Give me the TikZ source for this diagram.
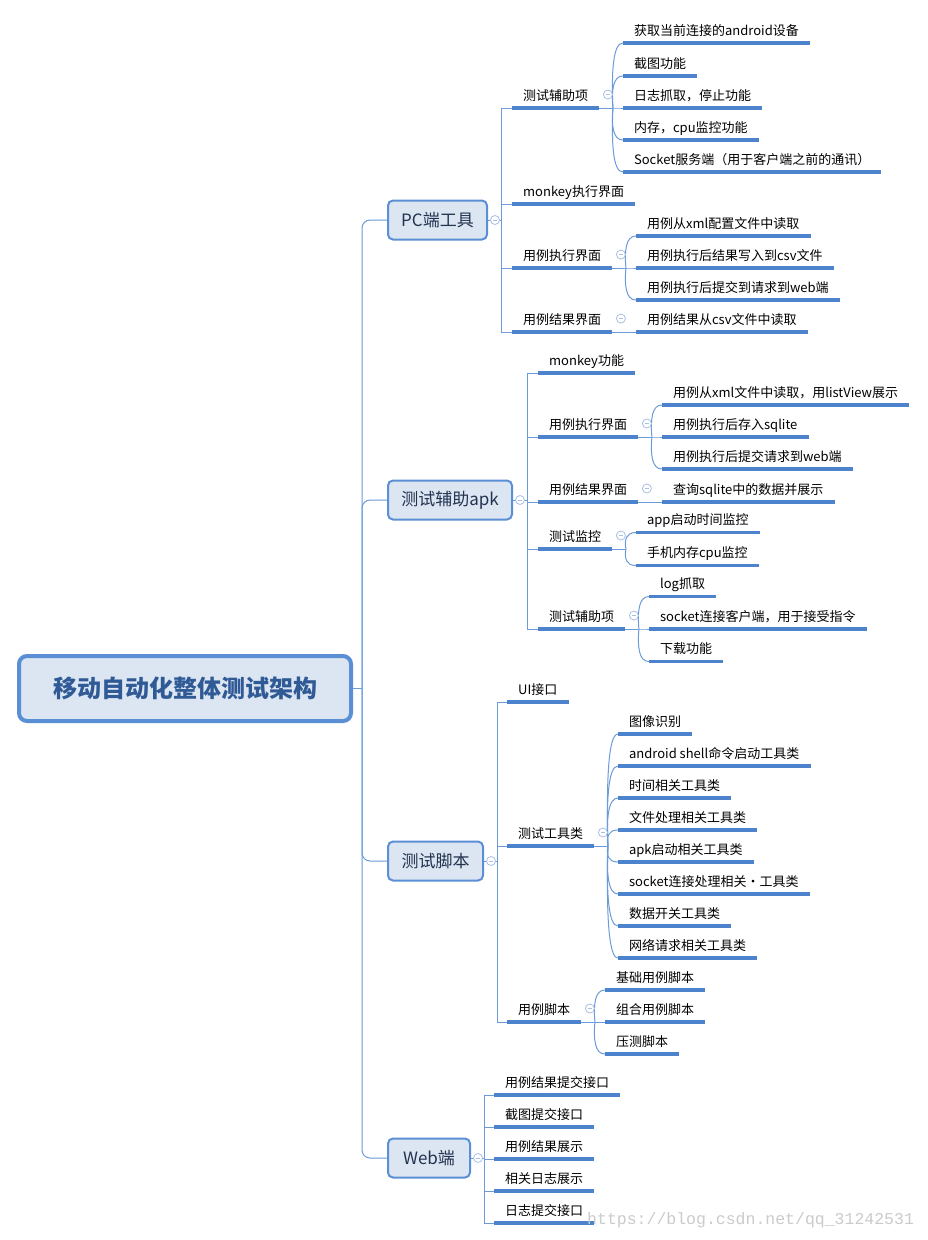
\documentclass[tikz,border=0pt]{standalone}
\usepackage{fontspec}
\setmainfont{Noto Sans CJK SC}
\newfontfamily\wmfont{Liberation Mono}
\usetikzlibrary{calc}

\definecolor{boxfill}{HTML}{DCE6F2}
\definecolor{boxline}{HTML}{5B8FD5}
\definecolor{rootink}{HTML}{2F5A96}
\definecolor{topicink}{HTML}{22324F}
\definecolor{uline}{HTML}{4C83CC}
\definecolor{wire}{HTML}{6B9BDA}
\definecolor{foldring}{HTML}{A9BFE6}
\definecolor{markgray}{HTML}{CBCBCB}

\tikzset{
  rootbox/.style={draw=boxline, line width=4pt, fill=boxfill, rounded corners=8pt,
    minimum width=332pt, minimum height=65pt, inner sep=0pt,
    font=\bfseries\fontsize{24}{28}\selectfont, text=rootink},
  topic/.style={draw=boxline, line width=2pt, fill=boxfill, rounded corners=5pt,
    minimum height=39pt, inner sep=0pt, font=\fontsize{17}{20}\selectfont, text=topicink},
  item/.style={anchor=south west, inner xsep=11pt, inner ysep=4.5pt,
    text height=10pt, text depth=3pt, font=\fontsize{13}{15}\selectfont, text=black},
  wirel/.style={draw=wire, line width=1pt},
  bar/.style={draw=uline, line width=3.2pt},
  fold/.style={circle, draw=foldring, fill=white, line width=0.8pt, minimum size=9pt,
    inner sep=0pt, path picture={\draw[foldring, line width=0.8pt]
      ([xshift=-2.2pt]path picture bounding box.center) --
      ([xshift=2.2pt]path picture bounding box.center);}},
  brace/.style={to path={let \p1=(\tikztostart), \p2=(\tikztotarget) in
    .. controls ({(\x1)-1.5pt},{(\y1)+0.55*((\y2)-(\y1))}) and (\x1,\y2) .. (\tikztotarget)}},
}

\begin{document}
\begin{tikzpicture}[x=1pt,y=-1pt]
\fill[white] (0,0) rectangle (927,1240);
\useasboundingbox (0,0) rectangle (927,1240);

% ---- central topic and main topics
\node[rootbox] (root) at (185,688.5) {移动自动化整体测试架构};
\coordinate (sp) at (362,688.5);

\node[topic, minimum width=99pt] (pc) at (437.5,220) {PC端工具};
\node[topic, minimum width=124pt] (apk) at (450,500) {测试辅助apk};
\node[topic, minimum width=95pt] (sc) at (435.5,861) {测试脚本};
\node[topic, minimum width=82pt] (web) at (429,1158) {Web端};

\coordinate (pcJ) at (501,220);
\coordinate (apkJ) at (527,500);
\coordinate (scJ) at (497,861);
\coordinate (webJ) at (484,1158);

% ---- PC端工具
\node[item] (p1) at (512,108) {测试辅助项};
\node[item] (p2) at (512,204) {monkey执行界面};
\node[item] (p3) at (512,268) {用例执行界面};
\node[item] (p4) at (512,332) {用例结果界面};

\coordinate (p1J) at ([xshift=13.5pt]p1.south east);
\node[item] (p1a) at ($(p1J)+(10,-65)$) {获取当前连接的android设备};
\node[item] (p1b) at ($(p1J)+(10,-32)$) {截图功能};
\node[item] (p1c) at ($(p1J)+(10,0)$) {日志抓取，停止功能};
\node[item] (p1d) at ($(p1J)+(10,32)$) {内存，cpu监控功能};
\node[item] (p1e) at ($(p1J)+(10,64)$) {Socket服务端（用于客户端之前的通讯）};

\coordinate (p3J) at ([xshift=13.5pt]p3.south east);
\node[item] (p3a) at ($(p3J)+(10,-32)$) {用例从xml配置文件中读取};
\node[item] (p3b) at ($(p3J)+(10,0)$) {用例执行后结果写入到csv文件};
\node[item] (p3c) at ($(p3J)+(10,32)$) {用例执行后提交到请求到web端};

\coordinate (p4J) at ([xshift=13.5pt]p4.south east);
\node[item] (p4a) at ($(p4J)+(10,0)$) {用例结果从csv文件中读取};

% ---- 测试辅助apk
\node[item] (a1) at (538,373) {monkey功能};
\node[item] (a2) at (538,437) {用例执行界面};
\node[item] (a3) at (538,502) {用例结果界面};
\node[item] (a4) at (538,549) {测试监控};
\node[item] (a5) at (538,629) {测试辅助项};

\coordinate (a2J) at ([xshift=13.5pt]a2.south east);
\node[item] (a2a) at ($(a2J)+(10,-32)$) {用例从xml文件中读取，用listView展示};
\node[item] (a2b) at ($(a2J)+(10,0)$) {用例执行后存入sqlite};
\node[item] (a2c) at ($(a2J)+(10,32)$) {用例执行后提交请求到web端};

\coordinate (a3J) at ([xshift=13.5pt]a3.south east);
\node[item] (a3a) at ($(a3J)+(10,0)$) {查询sqlite中的数据并展示};

\coordinate (a4J) at ([xshift=13.5pt]a4.south east);
\node[item] (a4a) at ($(a4J)+(10,-16.5)$) {app启动时间监控};
\node[item] (a4b) at ($(a4J)+(10,16.5)$) {手机内存cpu监控};

\coordinate (a5J) at ([xshift=13.5pt]a5.south east);
\node[item] (a5a) at ($(a5J)+(10,-32.5)$) {log抓取};
\node[item] (a5b) at ($(a5J)+(10,0)$) {socket连接客户端，用于接受指令};
\node[item] (a5c) at ($(a5J)+(10,32.5)$) {下载功能};

% ---- 测试脚本
\node[item] (s1) at (507,702) {UI接口};
\node[item] (s2) at (507,846) {测试工具类};
\node[item] (s3) at (507,1022) {用例脚本};

\coordinate (s2J) at ([xshift=13.5pt]s2.south east);
\node[item] (s2a) at ($(s2J)+(10,-112)$) {图像识别};
\node[item] (s2b) at ($(s2J)+(10,-80)$) {android shell命令启动工具类};
\node[item] (s2c) at ($(s2J)+(10,-48)$) {时间相关工具类};
\node[item] (s2d) at ($(s2J)+(10,-16)$) {文件处理相关工具类};
\node[item] (s2e) at ($(s2J)+(10,16)$) {apk启动相关工具类};
\node[item] (s2f) at ($(s2J)+(10,48)$) {socket连接处理相关·工具类};
\node[item] (s2g) at ($(s2J)+(10,80)$) {数据开关工具类};
\node[item] (s2h) at ($(s2J)+(10,112)$) {网络请求相关工具类};

\coordinate (s3J) at ([xshift=13.5pt]s3.south east);
\node[item] (s3a) at ($(s3J)+(10,-32)$) {基础用例脚本};
\node[item] (s3b) at ($(s3J)+(10,0)$) {组合用例脚本};
\node[item] (s3c) at ($(s3J)+(10,32)$) {压测脚本};

% ---- Web端
\node[item] (w1) at (494,1095) {用例结果提交接口};
\node[item] (w2) at (494,1127) {截图提交接口};
\node[item] (w3) at (494,1159) {用例结果展示};
\node[item] (w4) at (494,1191) {相关日志展示};
\node[item] (w5) at (494,1223) {日志提交接口};

% ---- connectors
\draw[wirel] (root.east) -- (sp);
\foreach \t in {pc,apk,sc,web}
  \draw[wirel, rounded corners=8pt] (sp) |- (\t.west);

\draw[wirel] (pc.east) -- (pcJ);
\draw[wirel] (apk.east) -- (apkJ);
\draw[wirel] (sc.east) -- (scJ);
\draw[wirel] (web.east) -- (webJ);

\foreach \b in {p1,p2,p3,p4} \draw[wirel] (pcJ) |- (\b.south west);
\foreach \b in {a1,a2,a3,a4,a5} \draw[wirel] (apkJ) |- (\b.south west);
\foreach \b in {s1,s2,s3} \draw[wirel] (scJ) |- (\b.south west);
\foreach \b in {w1,w2,w3,w4,w5} \draw[wirel] (webJ) |- (\b.south west);

\foreach \b in {p1,p3,p4,a2,a3,a4,a5,s2,s3}
  \draw[wirel] (\b.south east) -- (\b J);

\foreach \l in {p1a,p1b,p1c,p1d,p1e} \draw[wirel] (p1J) to[brace] (\l.south west);
\foreach \l in {p3a,p3b,p3c} \draw[wirel] (p3J) to[brace] (\l.south west);
\draw[wirel] (p4J) -- (p4a.south west);
\foreach \l in {a2a,a2b,a2c} \draw[wirel] (a2J) to[brace] (\l.south west);
\draw[wirel] (a3J) -- (a3a.south west);
\foreach \l in {a4a,a4b} \draw[wirel] (a4J) to[brace] (\l.south west);
\foreach \l in {a5a,a5b,a5c} \draw[wirel] (a5J) to[brace] (\l.south west);
\foreach \l in {s2a,s2b,s2c,s2d,s2e,s2f,s2g,s2h} \draw[wirel] (s2J) to[brace] (\l.south west);
\foreach \l in {s3a,s3b,s3c} \draw[wirel] (s3J) to[brace] (\l.south west);

% ---- underlines of the text topics
\foreach \n in {p1,p2,p3,p4,p1a,p1b,p1c,p1d,p1e,p3a,p3b,p3c,p4a,
                a1,a2,a3,a4,a5,a2a,a2b,a2c,a3a,a4a,a4b,a5a,a5b,a5c,
                s1,s2,s3,s2a,s2b,s2c,s2d,s2e,s2f,s2g,s2h,s3a,s3b,s3c,
                w1,w2,w3,w4,w5}
  \draw[bar] (\n.south west) -- (\n.south east);

% ---- collapse markers
\node[fold] (fpc) at ([xshift=7pt]pc.east) {};
\node[fold] (fapk) at ([xshift=7pt]apk.east) {};
\node[fold] (fsc) at ([xshift=7pt]sc.east) {};
\node[fold] (fweb) at ([xshift=7pt]web.east) {};
\foreach \b in {p1,p3,p4,a2,a3,a4,a5,s2,s3}
  \node[fold] (f\b) at ([xshift=8.5pt,yshift=13.5pt]\b.south east) {};

% ---- watermark
\node[anchor=west, inner sep=0pt, text=markgray, font=\wmfont\fontsize{16.5}{18}\selectfont]
  (mark) at (587,1220) {https://blog.csdn.net/qq\_31242531};
\end{tikzpicture}
\end{document}
